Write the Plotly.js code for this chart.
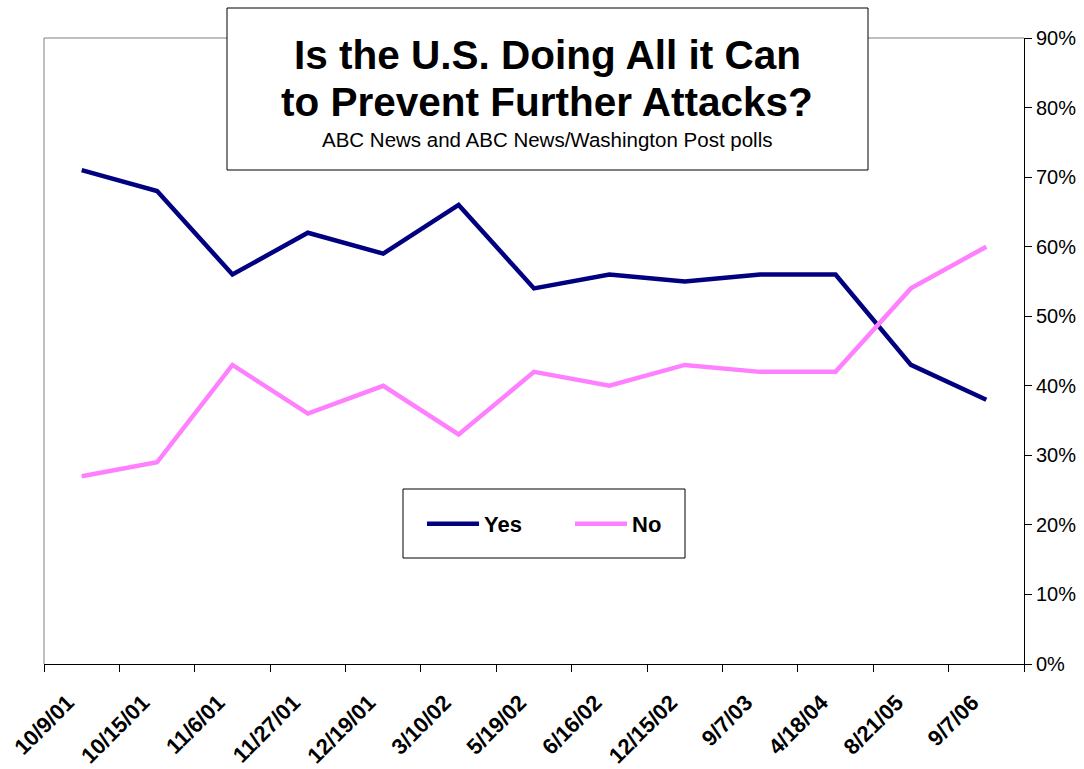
<!DOCTYPE html>
<html>
<head>
<meta charset="utf-8">
<script src="https://cdn.plot.ly/plotly-3.0.1.min.js"></script>
<style>html,body{margin:0;padding:0;background:#fff;}#chart{width:1084px;height:769px;}</style>
</head>
<body>
<div id="chart"></div>
<script>
const categories = ["10/9/01","10/15/01","11/6/01","11/27/01","12/19/01","3/10/02","5/19/02","6/16/02","12/15/02","9/7/03","4/18/04","8/21/05","9/7/06"];
const yesValues = [71, 68, 56, 62, 59, 66, 54, 56, 55, 56, 56, 43, 38];
const noValues  = [27, 29, 43, 36, 40, 33, 42, 40, 43, 42, 42, 54, 60];
const yTickVals = [0,10,20,30,40,50,60,70,80,90];
const yTickText = ["0%","10%","20%","30%","40%","50%","60%","70%","80%","90%"];

const FONT = '"Liberation Sans", Arial, sans-serif';
const W = 1084, H = 769, ML = 44, MR = 60, MT = 38, MB = 105;
const PW = W - ML - MR, PH = H - MT - MB;
const px = x => (x - ML) / PW;
const py = y => (H - MB - y) / PH;

const traces = [
  {x: categories, y: yesValues, name: 'Yes', type: 'scatter', mode: 'lines',
   line: {color: '#000080', width: 4.5}},
  {x: categories, y: noValues, name: 'No', type: 'scatter', mode: 'lines',
   line: {color: '#FF80FF', width: 4.5}}
];

const layout = {
  width: W, height: H,
  margin: {l: ML, r: MR, t: MT, b: MB, pad: 0},
  paper_bgcolor: '#fff', plot_bgcolor: '#fff',
  font: {family: FONT, color: '#000'},
  showlegend: true,
  legend: {
    orientation: 'h', x: px(422), xanchor: 'left', y: py(524), yanchor: 'middle',
    bgcolor: 'rgba(0,0,0,0)', borderwidth: 0,
    font: {family: FONT, size: 22, color: '#000', weight: 'bold'},
    itemwidth: 52, entrywidth: 81, entrywidthmode: 'pixels'
  },
  xaxis: {
    type: 'category', range: [-0.5, 12.5], tickson: 'boundaries',
    ticks: 'outside', ticklen: 7, tickcolor: '#000', tickwidth: 1,
    showline: true, linecolor: '#000', linewidth: 1,
    showgrid: false, zeroline: false, tickangle: -45,
    ticklabelshift: -14, ticklabelstandoff: 16,
    tickfont: {family: FONT, size: 22, color: '#000', weight: 'bold'},
    fixedrange: true
  },
  yaxis: {
    side: 'right', range: [0, 90], tickmode: 'array', tickvals: yTickVals, ticktext: yTickText,
    ticks: 'outside', ticklen: 7, tickcolor: '#000', tickwidth: 1,
    showline: true, linecolor: '#000', linewidth: 1,
    showgrid: false, zeroline: false,
    tickfont: {family: FONT, size: 20, color: '#000'},
    fixedrange: true
  },
  shapes: [
    {type: 'line', xref: 'paper', yref: 'paper', x0: 0, x1: 0, y0: 0, y1: 1,
     line: {color: '#808080', width: 1}, layer: 'below'},
    {type: 'line', xref: 'paper', yref: 'paper', x0: 0, x1: 1, y0: 1, y1: 1,
     line: {color: '#808080', width: 1}, layer: 'below'},
    {type: 'rect', xref: 'paper', yref: 'paper', x0: px(227), x1: px(868), y0: py(170), y1: py(8),
     fillcolor: '#fff', line: {color: '#000', width: 1}, layer: 'above'},
    {type: 'rect', xref: 'paper', yref: 'paper', x0: px(403), x1: px(685), y0: py(558), y1: py(489),
     fillcolor: '#fff', line: {color: '#000', width: 1}, layer: 'below'}
  ],
  annotations: [
    {text: 'Is the U.S. Doing All it Can', xref: 'paper', yref: 'paper', x: px(547), y: py(55),
     xanchor: 'center', yanchor: 'middle', showarrow: false,
     font: {family: FONT, size: 40.5, color: '#000', weight: 'bold'}},
    {text: 'to Prevent Further Attacks?', xref: 'paper', yref: 'paper', x: px(547), y: py(102),
     xanchor: 'center', yanchor: 'middle', showarrow: false,
     font: {family: FONT, size: 40.5, color: '#000', weight: 'bold'}},
    {text: 'ABC News and ABC News/Washington Post polls', xref: 'paper', yref: 'paper', x: px(547), y: py(139),
     xanchor: 'center', yanchor: 'middle', showarrow: false,
     font: {family: FONT, size: 20.5, color: '#000'}}
  ]
};

Plotly.newPlot('chart', traces, layout, {displayModeBar: false, staticPlot: true});
</script>
</body>
</html>
